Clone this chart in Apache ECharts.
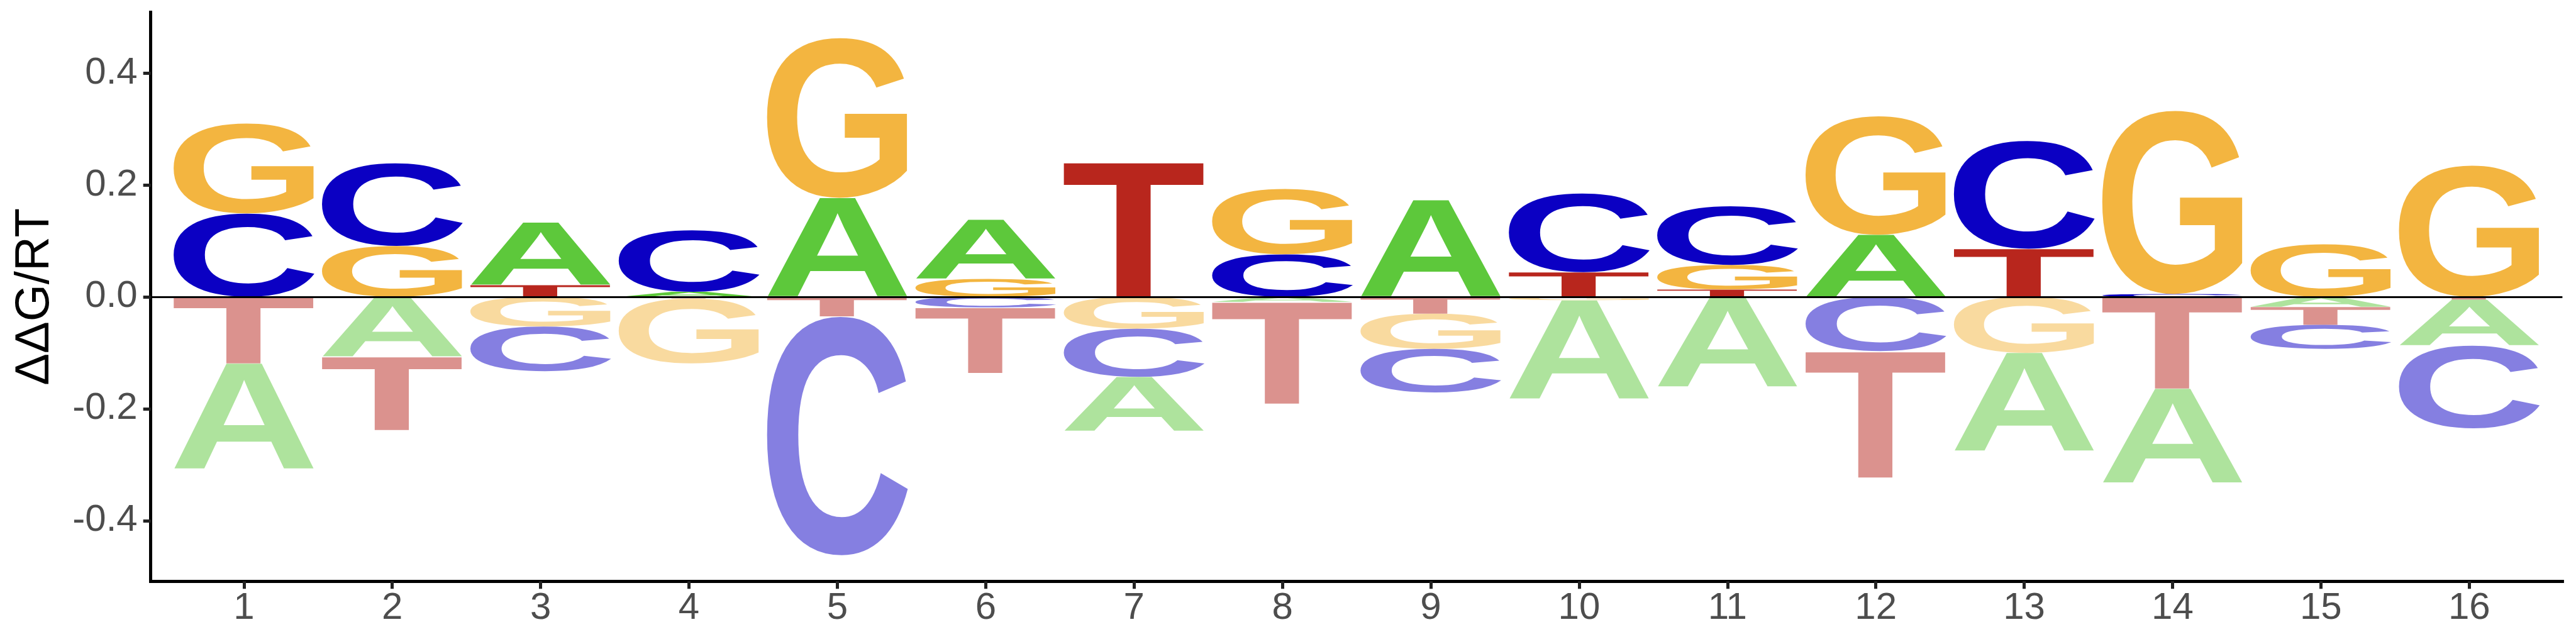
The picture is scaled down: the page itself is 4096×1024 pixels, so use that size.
<!DOCTYPE html>
<html>
<head>
<meta charset="utf-8">
<script src="https://cdn.jsdelivr.net/npm/echarts@6/dist/echarts.min.js"></script>
<style>
html,body{margin:0;padding:0;background:#ffffff;}
#chart{width:4096px;height:1024px;}
</style>
</head>
<body>
<div id="chart"></div>
<script>
// ---------------- data ----------------
const positions = [1,2,3,4,5,6,7,8,9,10,11,12,13,14,15,16];
const bases = ['A','C','G','T'];
const valA = [-0.189,-0.107, 0.112, 0.009, 0.177, 0.106,-0.097,-0.009, 0.173,-0.177,-0.161, 0.111,-0.176,-0.169,-0.018,-0.082];
const valC = [ 0.149, 0.148,-0.080, 0.110,-0.427,-0.019,-0.086, 0.076,-0.078, 0.141, 0.105,-0.097, 0.193, 0.005,-0.043,-0.148];
const valG = [ 0.161, 0.091,-0.053,-0.116, 0.286, 0.032,-0.057, 0.117,-0.063,-0.006, 0.044, 0.212,-0.100, 0.328, 0.094, 0.235];
const valT = [-0.119,-0.131, 0.021,-0.003,-0.035,-0.117, 0.241,-0.182,-0.030, 0.044, 0.013,-0.226, 0.086,-0.164,-0.032,-0.005];
const yTicks = [-0.4,-0.2,0,0.2,0.4];
const yTitle = 'ΔΔG/RT';

// ---------------- style ----------------
const baseColors = ['#5DC83B','#0B00C3','#F3B540','#B8261D'];
const LETTER_W = 0.95;
const GLYPH_FONT = 'bold 200px "Liberation Sans"';

// glyph metrics (middle baseline, left aligned) as zrender draws text
const mctx = document.createElement('canvas').getContext('2d');
mctx.font = GLYPH_FONT;
mctx.textBaseline = 'middle';
mctx.textAlign = 'left';
const metrics = bases.map(function (b) {
  const m = mctx.measureText(b);
  return {L: m.actualBoundingBoxLeft, R: m.actualBoundingBoxRight,
          asc: m.actualBoundingBoxAscent, desc: m.actualBoundingBoxDescent};
});

// stacked rectangles: [pos, low, high, baseIndex, sign]
const vals = [valA, valC, valG, valT];
const logoData = [];
positions.forEach(function (p, i) {
  const items = bases.map(function (b, k) { return {k: k, v: vals[k][i]}; });
  const pos = items.filter(function (d) { return d.v > 0; }).sort(function (a, b) { return a.v - b.v; });
  const neg = items.filter(function (d) { return d.v < 0; }).sort(function (a, b) { return b.v - a.v; });
  let cum = 0;
  pos.forEach(function (d) { logoData.push([p, cum, cum + d.v, d.k, 1]); cum += d.v; });
  cum = 0;
  neg.forEach(function (d) { logoData.push([p, cum + d.v, cum, d.k, -1]); cum += d.v; });
});

function renderLetter(params, api) {
  const x = api.value(0), lo = api.value(1), hi = api.value(2);
  const k = api.value(3), sgn = api.value(4);
  const p1 = api.coord([x - LETTER_W / 2, hi]);
  const p2 = api.coord([x + LETTER_W / 2, lo]);
  const w = p2[0] - p1[0], h = p2[1] - p1[1];
  const m = metrics[k];
  const sx = w / (m.L + m.R);
  const sy = h / (m.asc + m.desc);
  return {
    type: 'text',
    silent: true,
    x: p1[0] + m.L * sx,
    y: p1[1] + m.asc * sy,
    scaleX: sx,
    scaleY: sy,
    originX: 0,
    originY: 0,
    style: {
      text: bases[k],
      x: 0, y: 0,
      font: GLYPH_FONT,
      fill: baseColors[k],
      opacity: sgn > 0 ? 1 : 0.5,
      align: 'left', verticalAlign: 'middle',
      textAlign: 'left', textVerticalAlign: 'middle',
      lineHeight: 200
    }
  };
}

const chart = echarts.init(document.getElementById('chart'), null, {renderer: 'canvas'});
chart.setOption({
  backgroundColor: '#ffffff',
  animation: false,
  grid: {left: 239.7, right: 21.6, top: 19.6, bottom: 99.7},
  xAxis: {
    type: 'value',
    min: 0.372, max: 16.628,
    splitLine: {show: false},
    axisLine: {show: true, onZero: false, lineStyle: {color: '#000', width: 5, cap: 'square'}},
    axisTick: {show: true, customValues: positions, length: 12, lineStyle: {color: '#222', width: 5}},
    axisLabel: {customValues: positions, fontSize: 60, color: '#4D4D4D', margin: 13, fontFamily: 'Liberation Sans'}
  },
  yAxis: {
    type: 'value',
    min: -0.5085, max: 0.5085,
    name: yTitle,
    nameLocation: 'middle',
    nameRotate: 90,
    nameGap: 146,
    nameTextStyle: {fontSize: 76, color: '#000', fontFamily: 'Liberation Sans'},
    splitLine: {show: false},
    axisLine: {show: true, onZero: false, lineStyle: {color: '#000', width: 5, cap: 'square'}},
    axisTick: {show: true, customValues: yTicks, length: 12, lineStyle: {color: '#222', width: 5}},
    axisLabel: {customValues: yTicks, fontSize: 60, color: '#4D4D4D', margin: 21, fontFamily: 'Liberation Sans',
      formatter: function (v) { return v.toFixed(1); }}
  },
  series: [{
    type: 'custom',
    silent: true,
    renderItem: renderLetter,
    encode: {x: 0, y: [1, 2]},
    data: logoData,
    markLine: {
      silent: true,
      symbol: ['none', 'none'],
      label: {show: false},
      lineStyle: {color: '#000', width: 3, type: 'solid'},
      data: [{yAxis: 0}]
    }
  }]
});
</script>
</body>
</html>
